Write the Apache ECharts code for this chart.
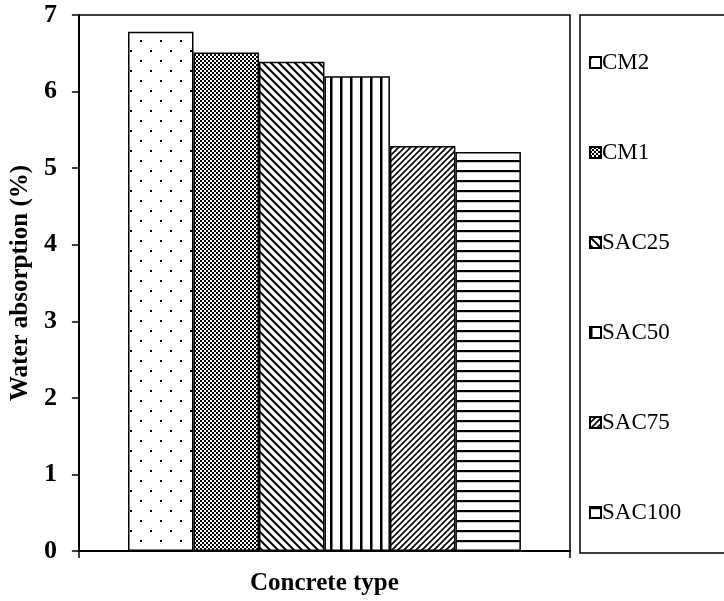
<!DOCTYPE html>
<html>
<head>
<meta charset="utf-8">
<script src="https://cdn.jsdelivr.net/npm/echarts@6/dist/echarts.min.js"></script>
<style>html,body{margin:0;padding:0;background:#fff;}#c{width:724px;height:601px;}</style>
</head>
<body>
<div id="c"></div>
<script>
var seriesNames = ['CM2', 'CM1', 'SAC25', 'SAC50', 'SAC75', 'SAC100'];
var seriesValues = [6.78, 6.51, 6.39, 6.20, 5.29, 5.21];
var categories = [''];
var yTicks = [0, 1, 2, 3, 4, 5, 6, 7];

var FONT = "'Times New Roman', 'Liberation Serif', serif";

function makeTile(w, h, draw) {
  var c = document.createElement('canvas');
  c.width = w; c.height = h;
  var ctx = c.getContext('2d');
  ctx.fillStyle = '#fff';
  ctx.fillRect(0, 0, w, h);
  ctx.fillStyle = '#000';
  ctx.strokeStyle = '#000';
  draw(ctx, w, h);
  return { image: c, repeat: 'repeat' };
}

var patterns = [
  makeTile(20, 20, function (ctx) {
    ctx.fillRect(0, 0, 2, 2);
    ctx.fillRect(10, 10, 2, 2);
  }),
  makeTile(4, 4, function (ctx) {
    ctx.fillRect(0, 0, 2, 2);
    ctx.fillRect(2, 2, 2, 2);
  }),
  makeTile(8, 8, function (ctx) {
    ctx.lineWidth = 2;
    ctx.beginPath();
    ctx.moveTo(-2, -2); ctx.lineTo(10, 10);
    ctx.moveTo(-10, -2); ctx.lineTo(2, 10);
    ctx.moveTo(6, -2); ctx.lineTo(18, 10);
    ctx.stroke();
  }),
  makeTile(10, 10, function (ctx) {
    ctx.fillRect(0, 0, 2.5, 10);
  }),
  makeTile(6, 6, function (ctx) {
    ctx.lineWidth = 1.6;
    ctx.beginPath();
    ctx.moveTo(-1, 7); ctx.lineTo(7, -1);
    ctx.moveTo(-7, 7); ctx.lineTo(1, -1);
    ctx.moveTo(5, 7); ctx.lineTo(13, -1);
    ctx.stroke();
  }),
  makeTile(10, 10, function (ctx) {
    ctx.fillRect(0, 0, 10, 2.2);
  })
];

var series = seriesNames.map(function (n, i) {
  return {
    name: n,
    type: 'bar',
    data: [seriesValues[i]],
    barGap: '0%',
    barCategoryGap: '20%',
    itemStyle: { color: patterns[i], borderColor: '#000', borderWidth: 1.5 },
    emphasis: { disabled: true }
  };
});

var chart = echarts.init(document.getElementById('c'), null, { renderer: 'canvas' });
chart.setOption({
  animation: false,
  backgroundColor: '#fff',
  grid: { left: 78, right: 154, top: 15, bottom: 46, show: true, borderColor: '#000', borderWidth: 1.5, backgroundColor: 'transparent' },
  xAxis: {
    type: 'category',
    data: categories,
    name: 'Concrete type',
    nameLocation: 'middle',
    nameGap: 20,
    nameTextStyle: { fontFamily: FONT, fontWeight: 'bold', fontSize: 25, color: '#000' },
    axisLine: { lineStyle: { color: '#000', width: 2 } },
    axisTick: { show: true, length: 7, lineStyle: { color: '#000', width: 1.5 } },
    axisLabel: { show: false }
  },
  yAxis: {
    type: 'value',
    min: yTicks[0],
    max: yTicks[yTicks.length - 1],
    interval: 1,
    name: 'Water absorption (%)',
    nameLocation: 'middle',
    nameGap: 44,
    nameTextStyle: { fontFamily: FONT, fontWeight: 'bold', fontSize: 25, color: '#000' },
    axisLine: { show: true, lineStyle: { color: '#000', width: 2 } },
    axisTick: { show: true, length: 7, lineStyle: { color: '#000', width: 1.5 } },
    axisLabel: { fontFamily: FONT, fontWeight: 'bold', fontSize: 26, color: '#000', margin: 22 },
    splitLine: { show: false }
  },
  legend: {
    orient: 'vertical',
    left: 584,
    top: 46,
    itemWidth: 11,
    itemHeight: 11,
    itemGap: 67,
    icon: 'rect',
    selectedMode: false,
    textStyle: { fontFamily: FONT, fontSize: 23, color: '#000', lineHeight: 20, padding: [0, 0, 0, -4] },
    data: seriesNames
  },
  graphic: [{
    type: 'rect',
    shape: { x: 580, y: 15, width: 200, height: 538 },
    style: { fill: 'none', stroke: '#000', lineWidth: 1.5 },
    silent: true
  }],
  series: series
});
</script>
</body>
</html>
